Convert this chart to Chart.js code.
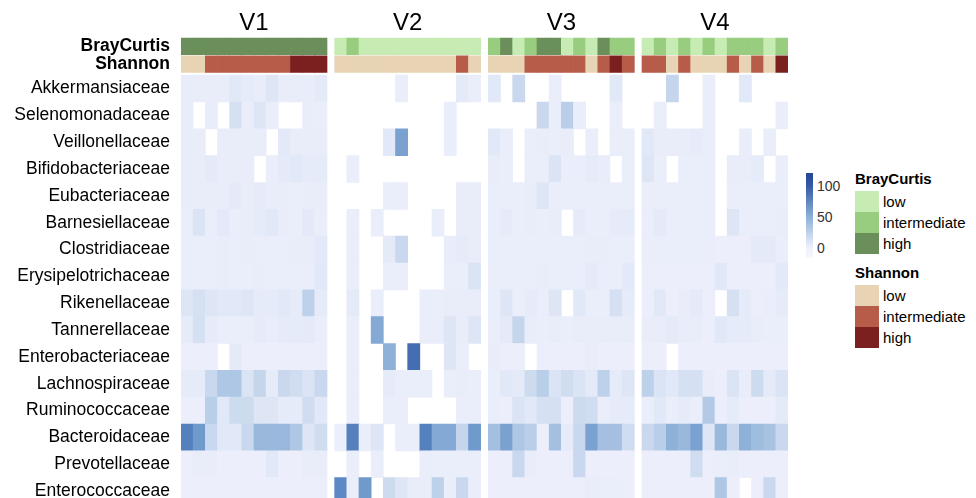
<!DOCTYPE html>
<html lang="en">
<head>
    <meta charset="UTF-8">
    <title>Family abundance heatmap V1-V4</title>
    <script src="https://cdn.jsdelivr.net/npm/chart.js"></script>
    <style>
        * {
            margin: 0;
            padding: 0;
            box-sizing: border-box;
            font-family: "Liberation Sans", Arial, sans-serif;
        }
        body {
            background: #fff;
            width: 976px;
            height: 498px;
            overflow: hidden;
            position: relative;
            color: #000;
        }
        #wrap {
            position: absolute;
            left: 0;
            top: 0;
            width: 800px;
            height: 526px;
        }
        .abs { position: absolute; }
        .ltitle { font-weight: bold; font-size: 15px; }
        .litem { font-size: 15px; line-height: 21px; height: 21px; }
        .lbox { display: inline-block; width: 24px; height: 21px; vertical-align: top; margin-right: 4px; }
        .tick { font-size: 14px; color: #333; line-height: 14px; }
    </style>
</head>
<body>
    <div id="wrap"><canvas id="heat"></canvas></div>

    <div id="colorbar" class="abs" style="left:806px; top:173px; width:7px; height:85px;"></div>
    <div class="abs tick" style="left:817px; top:179px;">100</div>
    <div class="abs tick" style="left:817px; top:210px;">50</div>
    <div class="abs tick" style="left:817px; top:241px;">0</div>

    <div id="bcLegend" class="abs" style="left:855px; top:170px;"></div>
    <div id="shLegend" class="abs" style="left:855px; top:264px;"></div>

    <script>
        const families = ['Akkermansiaceae', 'Selenomonadaceae', 'Veillonellaceae', 'Bifidobacteriaceae',
            'Eubacteriaceae', 'Barnesiellaceae', 'Clostridiaceae', 'Erysipelotrichaceae', 'Rikenellaceae',
            'Tannerellaceae', 'Enterobacteriaceae', 'Lachnospiraceae', 'Ruminococcaceae', 'Bacteroidaceae',
            'Prevotellaceae', 'Enterococcaceae'];
        const panels = ['V1', 'V2', 'V3', 'V4'];
        const levels = ['low', 'intermediate', 'high'];

        // abundance per family (rows) x sample (12 per panel); null = blank cell
        const v1 = [
            [4, 4, 4, 4, 8, 5, 4, 10, 4, 4, 4, 6],
            [4, null, 4, null, 15, 3, 10, 3, null, null, 4, 3],
            [4, 4, null, 4, 4, 4, 4, null, 7, 4, 4, 4],
            [4, 4, 6, 4, 4, 4, null, 3, 6, 8, 5, 5],
            [4, 4, 4, 4, 6, 4, 5, 4, 4, 3, 4, 4],
            [3, 12, 3, 7, 3, 4, 5, 8, 4, 3, 7, 3],
            [3, 3, 3, 4, 3, 4, 3, 3, 3, 4, 4, 7],
            [3, 3, 3, 4, 3, 3, 4, 3, 3, 3, 3, 8],
            [10, 15, 10, 8, 8, 10, 5, 5, 8, 5, 28, 5],
            [5, 15, 5, 3, 3, 3, 5, 4, 5, 5, 6, 3],
            [2, 2, 2, null, 6, 2, 2, 2, 2, 2, 2, 2],
            [5, 5, 22, 35, 35, 12, 25, 5, 22, 18, 12, 22],
            [2, 2, 30, 8, 20, 20, 10, 10, 5, 5, 18, 8],
            [80, 65, 22, 8, 8, 22, 45, 45, 45, 35, 10, 18],
            [2, 4, 4, 2, 2, 2, 2, 8, 2, 2, 4, 4],
            [2, 2, 2, 2, 2, 2, 2, 2, 2, 2, 2, 2]
        ];
        const v2 = [
            [null, null, null, null, null, 3, null, null, null, null, 6, 3],
            [null, null, null, null, null, null, null, null, null, 3, null, null],
            [null, null, null, null, 8, 60, null, null, null, 3, null, null],
            [null, 3, null, null, null, null, null, null, null, null, null, null],
            [null, null, null, null, 3, 3, null, null, null, null, 4, 4],
            [null, 3, null, 3, null, null, null, null, 3, null, 4, 4],
            [null, 3, null, null, 6, 22, null, null, null, 4, 5, 4],
            [null, 3, null, null, 3, 3, null, null, null, 3, 3, 12],
            [null, 6, null, 3, null, null, null, 3, 3, 4, 4, 4],
            [null, 3, null, 55, null, null, null, 3, 3, 10, 4, 10],
            [null, 3, null, null, 50, null, 90, null, null, 10, 3, null],
            [null, 3, null, null, 5, 3, 3, 3, null, 3, 4, 3],
            [null, 3, null, null, 3, 3, null, null, null, null, 3, 3],
            [2, 80, 3, 10, null, 3, 3, 80, 55, 55, 25, 65],
            [null, 3, null, 3, null, null, null, 3, 3, 3, 3, 3],
            [75, 3, 65, null, 20, 10, 4, 4, 28, 3, 22, 3]
        ];
        const v3 = [
            [8, null, 22, null, null, 3, null, null, null, null, 8, null],
            [null, null, null, null, 22, 3, 30, 3, null, null, 3, null],
            [8, 3, null, 3, 4, 3, 4, null, 3, null, 3, 3],
            [4, 3, null, 3, 3, 12, 3, 3, 5, 4, null, 3],
            [3, 3, 3, 4, 10, 3, 3, 3, 3, 3, 3, 3],
            [3, 5, 3, 4, 3, 4, null, 5, 3, 3, 5, 5],
            [3, 3, 3, 3, 3, 3, 3, 3, 4, 4, 3, 3],
            [3, 3, 3, 3, 4, 3, 3, 3, 6, 3, 3, 7],
            [3, 10, 3, 5, 3, 10, null, 8, 3, 3, 15, 5],
            [3, 6, 25, 4, 3, 4, 3, 4, 4, 4, 4, 4],
            [4, 2, 2, null, 2, 2, 2, 2, 4, 2, 2, 2],
            [3, 8, 6, 20, 30, 12, 18, 12, 6, 28, 5, 10],
            [3, 2, 12, 8, 15, 15, 2, 20, 18, 3, 5, 5],
            [40, 60, 35, 30, 2, 40, 5, 22, 60, 40, 40, 18],
            [2, 2, 22, 4, 2, 2, 2, 22, 2, 2, 2, 2],
            [2, 2, 2, 2, 2, 2, 2, 2, 4, 3, 3, 2]
        ];
        const v4 = [
            [null, null, 25, null, null, 3, null, null, 8, null, null, null],
            [null, 3, null, null, null, 3, null, null, null, null, null, 3],
            [8, 4, 4, 4, 5, 3, null, null, 3, null, 3, null],
            [10, 3, null, 3, 3, 3, null, 4, 4, 5, null, 3],
            [3, 3, 3, 3, 3, 3, null, 3, 3, 3, 3, 3],
            [3, 6, 3, 3, 3, 3, null, 10, 3, 3, 3, 4],
            [3, 3, 3, 3, 3, 3, 2, 2, 2, 6, 6, 3],
            [2, 2, 2, 2, 2, 2, 8, 2, 2, 2, 2, 7],
            [2, 8, 2, 4, 6, 2, null, 15, 5, 2, 3, 5],
            [4, 4, 6, 4, 4, 2, 8, 5, 5, 4, 3, 3],
            [2, 2, null, 2, 2, 2, 2, 2, 2, 2, 2, 2],
            [28, 12, 8, 15, 15, 4, 2, 12, 4, 20, 6, 12],
            [3, 8, 3, 5, 3, 33, 2, 5, 2, 2, 2, 6],
            [22, 30, 50, 45, 60, 10, 45, 22, 50, 42, 38, 22],
            [2, 2, 2, 2, 18, 2, 3, 4, 2, 2, 2, 2],
            [2, 2, 2, 2, 2, 2, 35, 2, null, 2, 22, 2]
        ];

        // 0 = low, 1 = intermediate, 2 = high
        const brayCurtis = [
            [2, 2, 2, 2, 2, 2, 2, 2, 2, 2, 2, 2],
            [0, 1, 0, 0, 0, 0, 0, 0, 0, 0, 0, 0],
            [1, 2, 0, 1, 2, 2, 0, 1, 0, 2, 1, 1],
            [0, 1, 0, 1, 0, 1, 0, 1, 1, 1, 0, 1]
        ];
        const shannon = [
            [0, 0, 1, 1, 1, 1, 1, 1, 1, 2, 2, 2],
            [0, 0, 0, 0, 0, 0, 0, 0, 0, 0, 1, 0],
            [0, 0, 0, 1, 1, 1, 1, 1, 0, 1, 2, 1],
            [1, 1, 0, 1, 0, 0, 0, 1, 0, 1, 0, 2]
        ];

        const bcColors = ['#c6ecb4', '#98cd80', '#6a8f5b'];
        const shColors = ['#e8d4b5', '#b65c49', '#7c1f1f'];

        // colour ramp for abundance
        const stops = [[0, [239, 241, 252]], [25, [196, 213, 236]], [50, [142, 177, 216]],
                       [75, [92, 137, 196]], [100, [52, 90, 166]], [125, [35, 66, 145]]];
        function heatColor(v) {
            for (let i = 1; i < stops.length; i++) {
                if (v <= stops[i][0]) {
                    const [a, ca] = stops[i - 1], [b, cb] = stops[i];
                    const t = Math.max(0, (v - a) / (b - a));
                    const c = ca.map((x, k) => Math.round(x + (cb[k] - x) * t));
                    return `rgb(${c.join(',')})`;
                }
            }
            return `rgb(${stops[stops.length - 1][1].join(',')})`;
        }

        const GAP = 0.63;
        const colX = (p, c) => p * (12 + GAP) + c;
        const BC_Y = [-1.38, -0.76];
        const SH_Y = [-0.72, -0.1];

        const cells = [];
        const colors = [];
        [v1, v2, v3, v4].forEach((m, p) => {
            m.forEach((row, r) => row.forEach((v, c) => {
                if (v === null) return;
                cells.push({ x: colX(p, c), y: [r, r + 1] });
                colors.push(heatColor(v));
            }));
            brayCurtis[p].forEach((lv, c) => {
                cells.push({ x: colX(p, c), y: BC_Y });
                colors.push(bcColors[lv]);
            });
            shannon[p].forEach((lv, c) => {
                cells.push({ x: colX(p, c), y: SH_Y });
                colors.push(shColors[lv]);
            });
        });

        const yLabels = ['BrayCurtis', 'Shannon', ...families];
        const yTicks = [(BC_Y[0] + BC_Y[1]) / 2, (SH_Y[0] + SH_Y[1]) / 2, ...families.map((f, i) => i + 0.5)];

        new Chart(document.getElementById('heat'), {
            type: 'bar',
            data: {
                datasets: [{
                    data: cells,
                    backgroundColor: colors,
                    borderWidth: 0,
                    barPercentage: 1,
                    categoryPercentage: 1
                }]
            },
            options: {
                responsive: true,
                maintainAspectRatio: false,
                animation: false,
                layout: { padding: { left: 0, right: 12, top: 0, bottom: 0 } },
                plugins: { legend: { display: false }, tooltip: { enabled: false } },
                scales: {
                    x: {
                        type: 'linear',
                        position: 'top',
                        offset: false,
                        min: -0.5,
                        max: colX(3, 11) + 0.5,
                        grid: { display: false, drawTicks: false },
                        border: { display: false },
                        afterBuildTicks: s => { s.ticks = panels.map((p, i) => ({ value: colX(i, 5.5) })); },
                        afterFit: s => { s.height = 36; },
                        ticks: {
                            autoSkip: false,
                            maxRotation: 0,
                            padding: -2,
                            color: '#000',
                            font: { size: 24 },
                            callback: (v, i) => panels[i]
                        }
                    },
                    y: {
                        type: 'linear',
                        reverse: true,
                        min: -1.46,
                        max: 16,
                        grid: { display: false, drawTicks: false },
                        border: { display: false },
                        afterBuildTicks: s => { s.ticks = yTicks.map(v => ({ value: v })); },
                        afterFit: s => { s.width = 181; },
                        ticks: {
                            autoSkip: false,
                            padding: 11,
                            color: '#000',
                            font: ctx => ({ size: 17.5, weight: ctx.index < 2 ? 'bold' : 'normal' }),
                            callback: (v, i) => yLabels[i]
                        }
                    }
                }
            }
        });

        // colour bar legend
        const cb = document.getElementById('colorbar');
        cb.style.background = `linear-gradient(to bottom, ${heatColor(121)} 0%, ${heatColor(100)} 15%, ` +
            `${heatColor(50)} 52%, ${heatColor(0)} 88%, #f7f8fd 100%)`;

        function buildLegend(id, title, cols) {
            const el = document.getElementById(id);
            let html = `<div class="ltitle">${title}</div><div style="margin-top:4px">`;
            levels.forEach((lv, i) => {
                html += `<div class="litem"><span class="lbox" style="background:${cols[i]}"></span>${lv}</div>`;
            });
            el.innerHTML = html + '</div>';
        }
        buildLegend('bcLegend', 'BrayCurtis', bcColors);
        buildLegend('shLegend', 'Shannon', shColors);
    </script>
</body>
</html>
